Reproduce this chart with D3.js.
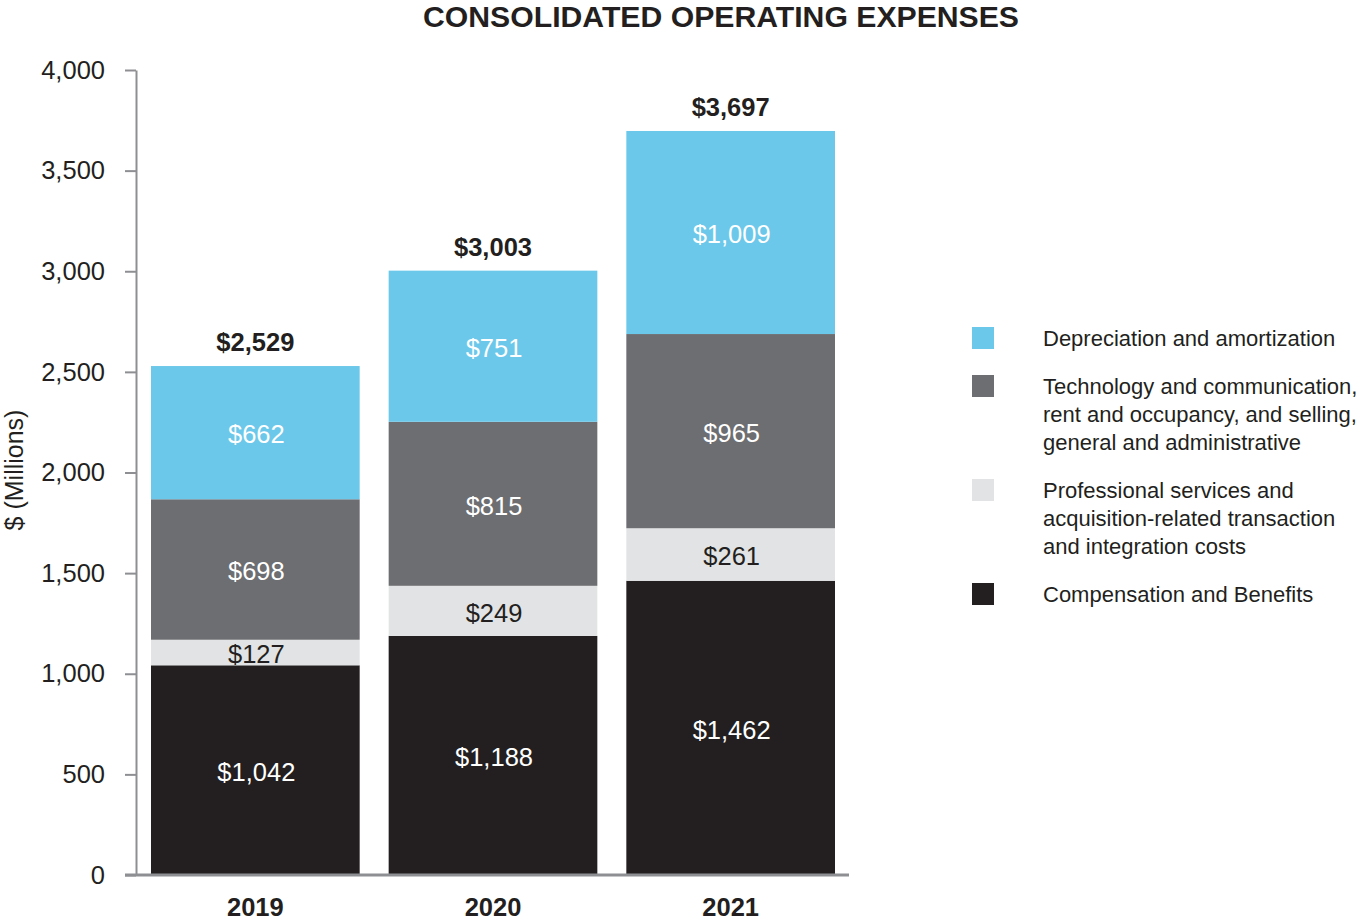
<!DOCTYPE html>
<html>
<head>
<meta charset="utf-8">
<script src="https://cdn.jsdelivr.net/npm/d3@7"></script>
<style>
  body { margin: 0; background: #fff; }
  svg { font-family: "Liberation Sans", Arial, Helvetica, sans-serif; }
</style>
</head>
<body>
<div id="chart"></div>
<script>
// data ($ millions)
const years = ["2019", "2020", "2021"];
const compensation = [1042, 1188, 1462];
const professional = [127, 249, 261];
const technology = [698, 815, 965];
const depreciation = [662, 751, 1009];
const totals = [2529, 3003, 3697];
const yTicks = [0, 500, 1000, 1500, 2000, 2500, 3000, 3500, 4000];

const seriesKeys = ["compensation", "professional", "technology", "depreciation"];
const seriesColors = ["#231f20", "#e2e3e4", "#6d6e71", "#6cc8ea"];
const labelColors = ["#ffffff", "#231f20", "#ffffff", "#ffffff"];
const legendLabels = [
  ["Depreciation and amortization"],
  ["Technology and communication,", "rent and occupancy, and selling,", "general and administrative"],
  ["Professional services and", "acquisition-related transaction", "and integration costs"],
  ["Compensation and Benefits"]
];
const legendColors = ["#6cc8ea", "#6d6e71", "#e2e3e4", "#231f20"];

const W = 1358, H = 922;
const margin = {top: 70, left: 136, bottom: 47};
const plotW = 712, plotH = H - margin.top - margin.bottom;

const table = years.map((y, i) => ({
  year: y,
  compensation: compensation[i],
  professional: professional[i],
  technology: technology[i],
  depreciation: depreciation[i],
  total: totals[i]
}));

const svg = d3.select("#chart").append("svg")
    .attr("width", W)
    .attr("height", H);

const g = svg.append("g")
    .attr("transform", "translate(" + margin.left + "," + margin.top + ")");

// bars sit from 15px to 699px inside the plot
const x = d3.scaleBand()
    .domain(years)
    .range([15, 699])
    .paddingInner(0.122)
    .paddingOuter(0);

const yScale = d3.scaleLinear()
    .domain([0, 4000])
    .range([plotH, 0]);

const stack = d3.stack().keys(seriesKeys)(table);

// bars
stack.forEach((layer, li) => {
  g.append("g")
    .selectAll("rect")
    .data(layer)
    .join("rect")
      .attr("x", d => x(d.data.year))
      .attr("y", d => yScale(d[1]))
      .attr("width", x.bandwidth())
      .attr("height", d => yScale(d[0]) - yScale(d[1]))
      .attr("fill", seriesColors[li]);

  g.append("g")
    .selectAll("text")
    .data(layer)
    .join("text")
      .attr("x", d => x(d.data.year) + x.bandwidth() / 2 + 1)
      .attr("y", d => yScale((d[0] + d[1]) / 2))
      .attr("dy", "0.42em")
      .attr("text-anchor", "middle")
      .attr("font-size", 25.5)
      .attr("fill", labelColors[li])
      .text(d => "$" + d3.format(",")(d[1] - d[0]));
});

// totals
g.append("g")
  .selectAll("text")
  .data(table)
  .join("text")
    .attr("x", d => x(d.year) + x.bandwidth() / 2)
    .attr("y", d => yScale(d.total) - 15)
    .attr("text-anchor", "middle")
    .attr("font-size", 25.5)
    .attr("font-weight", "bold")
    .attr("fill", "#231f20")
    .text(d => "$" + d3.format(",")(d.total));

// y axis
const yAxis = g.append("g")
    .call(d3.axisLeft(yScale).tickValues(yTicks).tickFormat(d3.format(",")).tickSize(11).tickSizeOuter(0));
yAxis.select(".domain").attr("stroke", "#8e8f93").attr("stroke-width", 2);
yAxis.selectAll(".tick line").attr("stroke", "#8e8f93").attr("stroke-width", 2);
yAxis.selectAll(".tick text")
    .attr("x", -31)
    .attr("font-size", 25.5)
    .attr("font-family", "Liberation Sans, Arial, sans-serif")
    .attr("fill", "#231f20");

// x axis baseline
const xAxis = g.append("g")
    .attr("transform", `translate(0, ${plotH})`)
    .call(d3.axisBottom(x).tickSize(0).tickPadding(23));
xAxis.select(".domain")
    .attr("d", `M-11,0H${plotW + 1}`)
    .attr("stroke", "#8e8f93")
    .attr("stroke-width", 3);
xAxis.selectAll(".tick text")
    .attr("dy", "0.71em")
    .attr("font-size", 25.5)
    .attr("font-weight", "bold")
    .attr("font-family", "Liberation Sans, Arial, sans-serif")
    .attr("fill", "#231f20");

// y label
svg.append("text")
    .attr("transform", "translate(23,470) rotate(-90)")
    .attr("text-anchor", "middle")
    .attr("font-size", 25)
    .attr("fill", "#231f20")
    .text("$ (Millions)");

// title
svg.append("text")
    .attr("x", 721)
    .attr("y", 27)
    .attr("text-anchor", "middle")
    .attr("font-size", 30.2)
    .attr("font-weight", "bold")
    .attr("fill", "#231f20")
    .text("CONSOLIDATED OPERATING EXPENSES");

// legend
const legendY = [338, 386, 490, 594];
const legend = svg.append("g");
legendLabels.forEach((lines, i) => {
  legend.append("rect")
    .attr("x", 972)
    .attr("y", legendY[i] - 11)
    .attr("width", 22)
    .attr("height", 22)
    .attr("fill", legendColors[i]);
  lines.forEach((line, j) => {
    legend.append("text")
      .attr("x", 1043)
      .attr("y", legendY[i] + j * 28)
      .attr("dy", "0.36em")
      .attr("font-size", 22)
      .attr("fill", "#231f20")
      .text(line);
  });
});
</script>
</body>
</html>
